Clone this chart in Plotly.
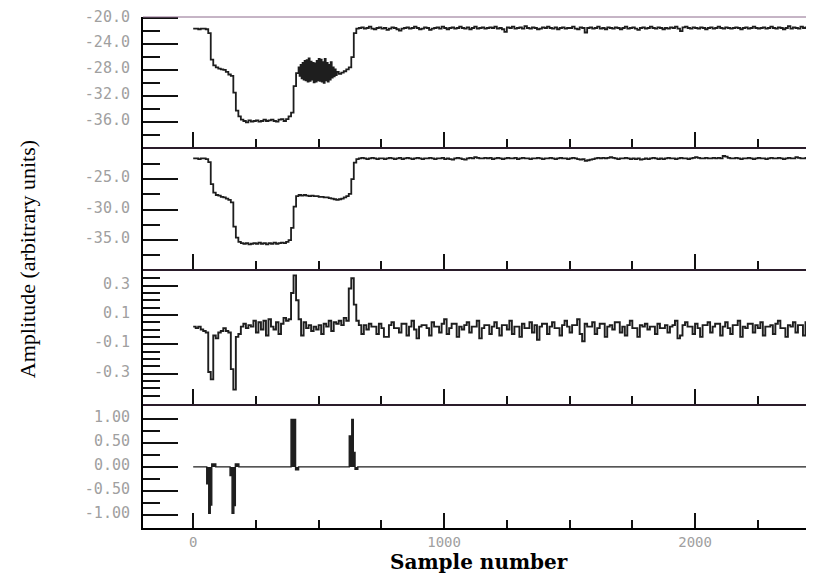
import plotly.graph_objects as go
from plotly.subplots import make_subplots

# ---------------- data (sample step 10 unless noted) ----------------
# Panel 1: raw amplitude
p1_head = [-21.6, -21.6, -21.7, -21.6, -21.6, -21.7, -22.3, -26.4, -27.3, -27.6,
           -27.8, -27.9, -28.0, -28.3, -28.7, -28.9, -31.5, -34.3, -35.2, -35.7,
           -35.9, -36.1, -35.8, -36.0, -35.9, -35.8, -36.0, -35.9, -35.7, -35.9,
           -35.8, -35.7, -35.9, -36.0, -35.7, -35.6, -35.9, -35.6, -35.2, -34.6,
           -30.5, -28.5]                      # samples 0..410
p1_burst = [-27.6, -28.9, -27.2, -29.3, -26.9, -29.5, -26.6, -29.6, -26.5, -29.8,
            -26.2, -29.7, -26.7, -29.5, -26.9, -29.9, -27.0, -29.8, -26.6, -29.6,
            -26.3, -29.7, -26.4, -29.8, -26.8, -30.0, -26.3, -29.6, -26.9, -29.8,
            -27.2, -29.5, -26.8, -29.2, -27.6, -29.0, -27.9, -28.8, -28.3]  # samples 420..572 step 4
p1_tail = [-28.6, -28.4, -28.2, -27.9, -27.6, -26.0, -22.3, -21.6,
           -21.5, -21.4, -21.6, -21.5, -21.3, -21.6, -21.7, -21.5, -21.4, -21.6,
           -21.5, -21.8, -21.6, -21.4, -21.5, -21.7, -21.9, -21.6, -21.5, -21.4,
           -21.6, -21.5, -21.3, -21.5, -21.7, -21.6, -21.4, -21.5, -21.8, -21.6,
           -21.5, -21.4, -21.6, -21.3, -21.5, -21.7, -21.5, -21.4, -21.6, -21.5,
           -21.3, -21.5, -21.6, -21.4, -21.7, -21.5, -21.3, -21.6, -21.5, -21.4,
           -21.6, -21.5, -21.4, -21.5, -21.3, -21.6, -21.5, -21.7, -22.1, -21.4,
           -21.5, -21.3, -21.6, -21.5, -21.4, -21.6, -21.2, -21.5, -21.6, -21.4,
           -21.5, -21.7, -21.6, -21.4, -21.5, -21.3, -21.5, -21.6, -21.4, -21.7,
           -21.5, -21.4, -21.6, -21.5, -21.5, -21.3, -21.6, -21.7, -21.4, -21.5,
           -22.2, -21.5, -21.4, -21.6, -21.5, -21.3, -21.6, -21.5, -21.7, -21.4,
           -21.5, -21.6, -21.4, -21.5, -21.7, -21.5, -21.3, -21.6, -21.5, -21.4,
           -21.6, -21.8, -21.5, -21.4, -21.6, -21.5, -21.3, -21.5, -21.6, -21.4,
           -21.5, -21.7, -21.5, -21.6, -21.4, -21.5, -21.3, -21.6, -22.0, -21.4,
           -21.3, -21.5, -21.6, -21.4, -21.5, -21.6, -21.4, -21.5, -21.7, -21.5,
           -21.4, -21.6, -21.5, -21.3, -21.5, -21.6, -21.4, -21.5, -21.6, -21.5,
           -21.4, -21.5, -21.7, -21.5, -21.4, -21.6, -21.5, -21.3, -21.5, -21.6,
           -21.5, -21.4, -21.6, -21.5, -21.3, -21.5, -21.6, -21.4, -21.5, -21.7,
           -21.5, -21.2, -21.6, -21.4, -21.5, -21.6, -21.3, -21.5, -21.4, -21.6,
           -21.5, -21.4, -21.6, -21.5, -21.5]   # samples 580..2500

# Panel 2: smoothed amplitude
p2_vals = [-21.6, -21.6, -21.7, -21.6, -21.6, -21.7, -22.2, -25.8, -27.2, -27.6,
           -27.7, -27.9, -28.0, -28.2, -28.4, -28.8, -32.8, -34.6, -35.3, -35.5,
           -35.6, -35.5, -35.7, -35.6, -35.5, -35.6, -35.4, -35.6, -35.5, -35.7,
           -35.5, -35.6, -35.4, -35.6, -35.5, -35.4, -35.5, -35.3, -35.0, -33.0,
           -29.5, -27.8, -27.6, -27.7, -27.6, -27.7, -27.8, -27.7, -27.8, -27.8,
           -27.9, -27.9, -28.0, -28.0, -28.1, -28.2, -28.3, -28.4, -28.3, -28.2,
           -28.0, -27.8, -27.4, -25.0, -22.3, -21.7,
           -21.6, -21.5, -21.6, -21.7, -21.6, -21.5, -21.6, -21.7, -21.6, -21.6,
           -21.7, -21.6, -21.5, -21.6, -21.7, -21.6, -21.5, -21.7, -21.6, -21.5,
           -21.6, -21.7, -21.6, -21.5, -21.6, -21.7, -21.6, -21.6, -21.5, -21.6,
           -21.7, -21.6, -21.6, -21.5, -21.7, -21.6, -21.7, -21.8, -21.6, -21.5,
           -21.6, -21.7, -21.8, -21.6, -21.5, -21.6, -21.4, -21.5, -21.6, -21.6,
           -21.5, -21.6, -21.5, -21.7, -21.6, -21.5, -21.6, -21.7, -21.6, -21.5,
           -21.6, -21.6, -21.5, -21.7, -21.6, -21.5, -21.6, -21.6, -21.7, -21.6,
           -21.6, -21.5, -21.6, -21.7, -21.6, -21.6, -21.5, -21.6, -21.7, -21.6,
           -21.5, -21.6, -21.6, -21.7, -21.6, -21.5, -21.6, -21.7, -21.8, -21.7,
           -22.0, -21.9, -21.8, -21.7, -21.6, -21.5, -21.6, -21.5, -21.6, -21.5,
           -21.4, -21.5, -21.6, -21.7, -21.6, -21.6, -21.5, -21.6, -21.7, -21.6,
           -21.7, -21.6, -21.8, -21.7, -21.6, -21.7, -21.6, -21.5, -21.6, -21.7,
           -21.6, -21.7, -21.6, -21.5, -21.6, -21.6, -21.7, -21.6, -21.5, -21.6,
           -21.6, -21.7, -21.6, -21.5, -21.4, -21.5, -21.6, -21.6, -21.5, -21.6,
           -21.6, -21.5, -21.6, -21.5, -21.6, -21.2, -21.3, -21.5, -21.6, -21.6,
           -21.5, -21.6, -21.7, -21.6, -21.6, -21.5, -21.6, -21.7, -21.6, -21.5,
           -21.6, -21.6, -21.7, -21.6, -21.5, -21.6, -21.6, -21.5, -21.6, -21.7,
           -21.6, -21.5, -21.6, -21.6, -21.4, -21.5, -21.6, -21.6, -21.5, -21.6,
           -21.6, -21.5, -21.6, -21.6, -21.5]   # samples 0..2500

# Panel 3: first difference
p3_vals = [0.02, 0.01, 0.02, 0.0, -0.01, -0.02, -0.29, -0.34, -0.04, -0.06,
           -0.02, -0.01, 0.01, -0.01, -0.02, -0.27, -0.41, -0.05, -0.03, 0.02,
           0.04, 0.01, 0.03, 0.02, 0.06, -0.02, 0.05, 0.0, 0.06, -0.04,
           0.07, 0.02, 0.0, 0.05, -0.03, 0.04, 0.08, 0.06, 0.07, 0.25,
           0.37, 0.20, 0.07, -0.04, 0.05, 0.01, 0.03, -0.01, 0.02, 0.0,
           0.03, -0.03, 0.04, 0.02, 0.06, -0.01, 0.05, 0.04, 0.06, 0.03,
           0.08, 0.06, 0.28, 0.35, 0.17, 0.06, 0.03, -0.03, 0.03, 0.0,
           0.04,
           0.02, 0.02, -0.03, 0.04, 0.01, -0.05, -0.05, 0.03, 0.05, 0.01,
           0.01, -0.02, 0.04, 0.04, -0.04, 0.02, 0.06, 0.0, -0.06, 0.02,
           0.03, 0.03, 0.01, -0.04, 0.05, 0.02, 0.02, -0.02, 0.04, 0.07,
           -0.03, 0.01, 0.04, 0.04, -0.05, 0.02, 0.0, 0.03, 0.05, -0.02,
           0.02, 0.02, 0.06, -0.06, 0.01, 0.03, 0.03, -0.03, 0.02, 0.05,
           0.01, -0.04, 0.03, 0.03, 0.0, 0.06, -0.03, 0.02, 0.02, -0.05,
           0.04, 0.01, 0.01, 0.05, -0.02, 0.03, -0.07, 0.02, 0.04, 0.04,
           -0.03, 0.02, 0.05, 0.01, 0.01, -0.04, 0.03, 0.06, 0.02, -0.02,
           0.03, 0.03, 0.07, -0.03, -0.08, 0.04, 0.02, 0.02, 0.05, -0.03,
           0.01, 0.04, 0.04, -0.05, 0.02, 0.03, 0.0, 0.05, 0.05, -0.02,
           0.02, -0.04, 0.03, 0.06, 0.01, 0.01, -0.05, 0.03, 0.02, 0.04,
           0.0, 0.02, 0.02, -0.03, 0.04, 0.01, 0.01, 0.03, -0.02, 0.02,
           0.03, 0.06, -0.06, -0.04, 0.03, 0.05, 0.02, 0.02, -0.03, 0.04,
           0.01, -0.05, 0.03, 0.03, 0.05, -0.02, 0.02, 0.04, 0.04, -0.04,
           0.02, 0.05, 0.01, -0.03, 0.03, 0.03, 0.06, -0.05, 0.02, 0.01,
           0.04, 0.04, -0.02, 0.03, 0.01, 0.05, -0.04, 0.02, 0.02, 0.03,
           -0.03, 0.04, 0.06, 0.01, 0.01, -0.05, 0.03, 0.02, 0.05, -0.02,
           0.03, 0.03, -0.04, 0.05, 0.02, 0.06, -0.03, 0.01, 0.04, 0.02]  # 0..2500

# Panel 4: thresholded events (step signal)
p4_samples = [0, 54, 62, 68, 74, 90, 147, 155, 162, 168, 182,
              390, 408, 420, 622, 632, 638, 645, 656, 2500]
p4_vals = [0, -0.35, -0.96, -0.79, 0.06, 0, -0.18, -0.96, -0.80, 0.06, 0,
           0.98, -0.06, 0, 0.64, 0.98, 0.30, -0.05, 0, 0]

# tick labels
p1_ticks, p1_text = [-20, -24, -28, -32, -36], ["-20.0", "-24.0", "-28.0", "-32.0", "-36.0"]
p1_minor = [-22, -26, -30, -34, -38]
p2_ticks, p2_text = [-25, -30, -35], ["-25.0", "-30.0", "-35.0"]
p2_minor = [-22.5, -27.5, -32.5, -37.5]
p3_ticks, p3_text = [0.3, 0.1, -0.1, -0.3], ["0.3", "0.1", "-0.1", "-0.3"]
p3_minor = [0.35, 0.25, 0.2, 0.15, 0.05, 0.0, -0.05, -0.15, -0.2, -0.25, -0.35, -0.4, -0.45]
p4_ticks, p4_text = [1.0, 0.5, 0.0, -0.5, -1.0], ["1.00", "0.50", "0.00", "-0.50", "-1.00"]
p4_minor = [0.75, 0.25, -0.25, -0.75, -1.25]
x_ticks, x_text = [0, 1000, 2000], ["0", "1000", "2000"]
x_minor = [250, 500, 750, 1250, 1500, 1750, 2250]

# ---------------- sample positions ----------------
x1 = ([i * 10 for i in range(len(p1_head))] +
      [420 + i * 4 for i in range(len(p1_burst))] +
      [580 + i * 10 for i in range(len(p1_tail))])
y1 = p1_head + p1_burst + p1_tail
x2 = [i * 10 for i in range(len(p2_vals))]
x3 = [i * 10 for i in range(len(p3_vals))]

# ---------------- figure ----------------
# the page body has an 8 px margin, so the figure starts at (8, 8) in the window
OFF = 8
W, H = 814 - OFF, 574 - OFF
L, R, T, B = 143 - OFF, 0, 11 - OFF, 574 - 528
ph = H - T - B
# panel pixel bounds in window coordinates (top, bottom)
bounds = [(11, 143), (143, 266), (266, 403), (403, 528)]


def py(win_y):
    """window pixel y -> paper fraction"""
    return (H + OFF - B - win_y) / ph


def px(win_x):
    return (win_x - OFF - L) / (W - L - R)


fig = make_subplots(rows=4, cols=1, shared_xaxes=False, vertical_spacing=0)
lc = "#1e1e1e"
fig.add_trace(go.Scatter(x=x1, y=y1, mode="lines",
                         line=dict(color=lc, width=1.8, shape="hv", simplify=False)), row=1, col=1)
fig.add_trace(go.Scatter(x=x2, y=p2_vals, mode="lines",
                         line=dict(color=lc, width=1.8, shape="hv", simplify=False)), row=2, col=1)
fig.add_trace(go.Scatter(x=x3, y=p3_vals, mode="lines",
                         line=dict(color=lc, width=1.9, shape="hv", simplify=False)), row=3, col=1)
fig.add_trace(go.Scatter(x=p4_samples, y=p4_vals, mode="lines", fill="tozeroy",
                         fillcolor=lc,
                         line=dict(color=lc, width=1.4, shape="hv", simplify=False)), row=4, col=1)

tickfont = dict(family="DejaVu Sans Mono", size=15, color="#a0a0a0")
xtickfont = dict(family="DejaVu Sans Mono", size=14, color="#a0a0a0")
yranges = [[-40.0, -19.8], [-39.75, -19.8], [-0.511, 0.413], [-1.266, 1.293]]
yt = [(p1_ticks, p1_text, p1_minor), (p2_ticks, p2_text, p2_minor),
      (p3_ticks, p3_text, p3_minor), (p4_ticks, p4_text, p4_minor)]
sep_colors = ["#2a1c2a", "#2a1c2a", "#2a1c2a", "#000000"]

for i in range(4):
    top, bot = bounds[i]
    dom = [py(bot), py(top)]
    tv, tt, mn = yt[i]
    fig.update_yaxes(row=i + 1, col=1, domain=dom, range=yranges[i],
                     tickmode="array", tickvals=tv, ticktext=tt,
                     ticks="inside", ticklen=35, tickwidth=2, tickcolor="#111",
                     minor=dict(tickmode="array", tickvals=mn, ticks="inside",
                                ticklen=17, tickwidth=2, tickcolor="#111", showgrid=False),
                     showline=True, linewidth=2, linecolor="#000",
                     showgrid=False, zeroline=False, tickfont=tickfont,
                     ticklabelstandoff=8, ticklabelshift=-2, ticklabeloverflow="allow")
    fig.update_xaxes(row=i + 1, col=1, range=[-200, 2474],
                     tickmode="array", tickvals=x_ticks, ticktext=x_text,
                     ticks="inside", ticklen=15, tickwidth=2, tickcolor="#111",
                     minor=dict(tickmode="array", tickvals=x_minor, ticks="inside",
                                ticklen=8, tickwidth=2, tickcolor="#111", showgrid=False),
                     showline=True, linewidth=2, linecolor=sep_colors[i],
                     showgrid=False, zeroline=False, tickfont=xtickfont,
                     showticklabels=(i == 3), ticklabelstandoff=0)

fig.add_shape(type="line", xref="paper", yref="paper", x0=0, x1=1, y0=1, y1=1,
              line=dict(color="#8c6a8c", width=1))

fig.add_annotation(text="Amplitude (arbitrary units)", xref="paper", yref="paper",
                   x=px(27), y=py(256), textangle=-90,
                   showarrow=False, xanchor="center", yanchor="middle",
                   font=dict(family="Liberation Serif", size=22, color="#000"))
fig.add_annotation(text="<b>Sample number</b>", xref="paper", yref="paper",
                   x=0.5, y=py(562), showarrow=False,
                   xanchor="center", yanchor="middle",
                   font=dict(family="DejaVu Serif", size=20, color="#000"))

fig.update_layout(width=W, height=H, margin=dict(l=L, r=R, t=T, b=B),
                  paper_bgcolor="white", plot_bgcolor="white", showlegend=False)

fig.write_html("out.html")
